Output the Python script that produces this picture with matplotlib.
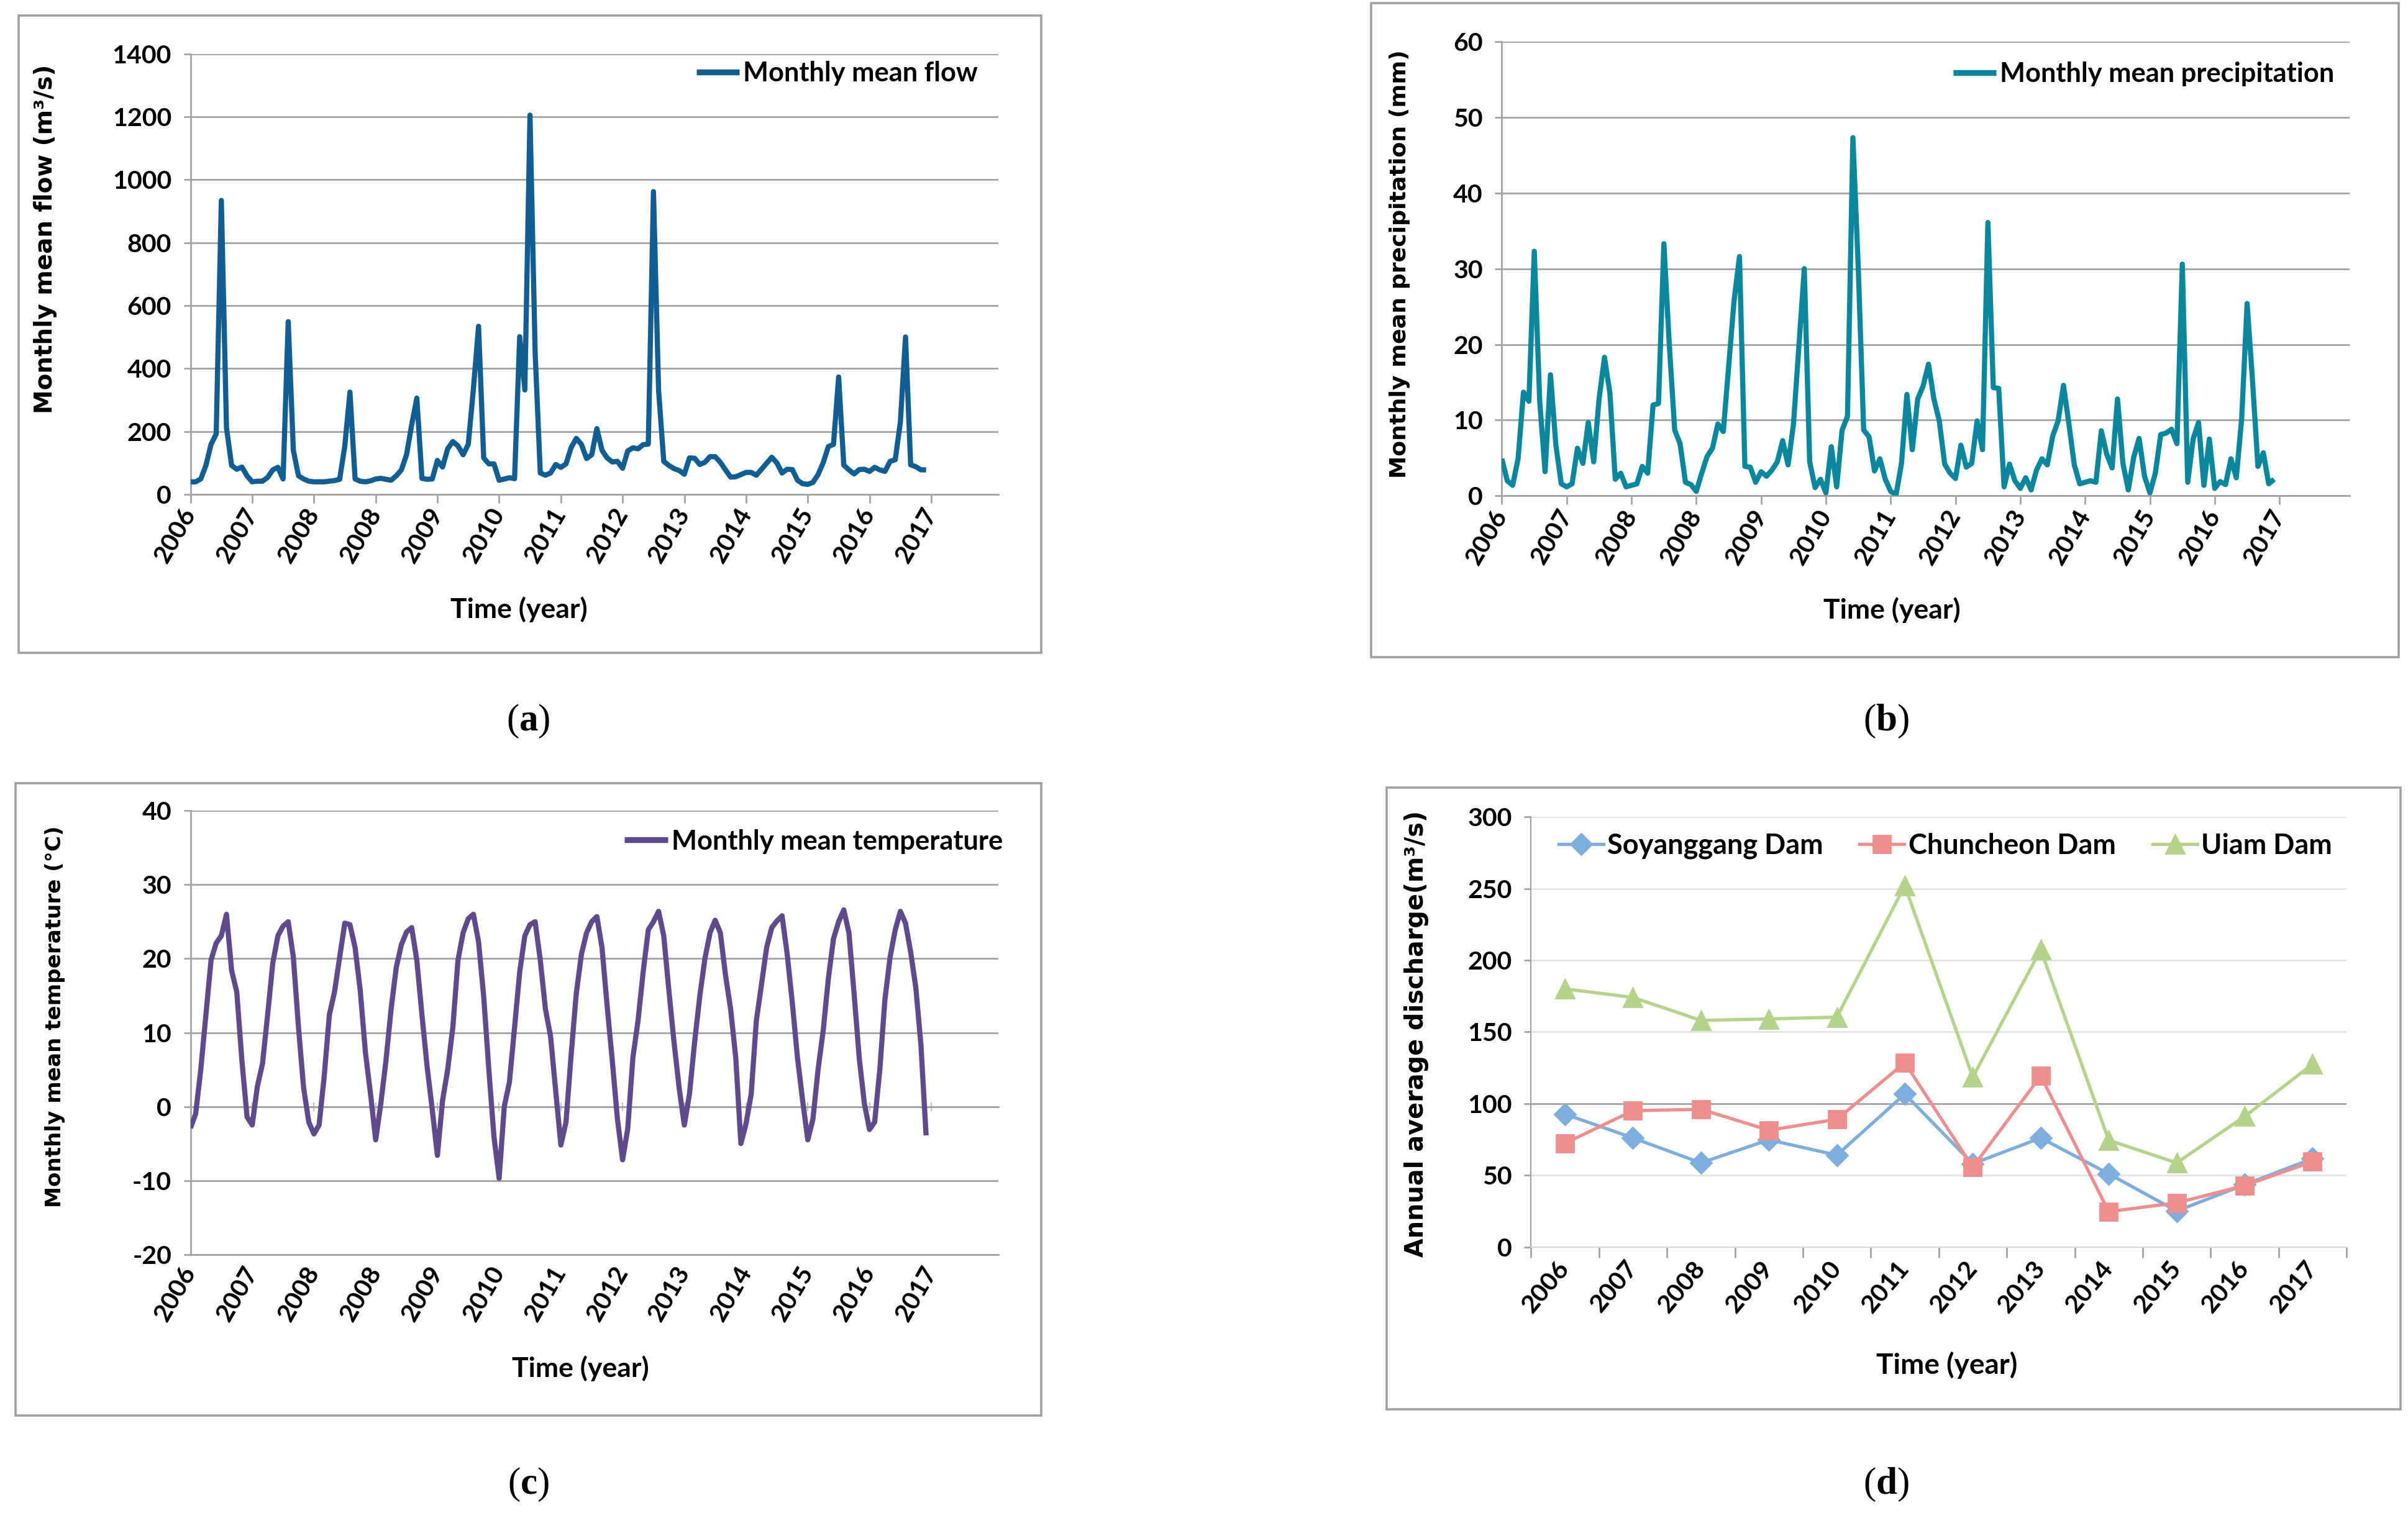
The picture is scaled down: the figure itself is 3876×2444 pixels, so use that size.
import numpy as np
import matplotlib
matplotlib.use('Agg')
import matplotlib.pyplot as plt
from matplotlib.patches import Rectangle

# ---------------- data ----------------
flow = [40, 40, 49, 92, 159, 192, 934, 211, 92, 80, 87, 59,
        40, 42, 42, 54, 78, 86, 49, 549, 140, 59, 49, 42,
        40, 40, 40, 42, 44, 48, 154, 325, 49, 42, 40, 43,
        49, 51, 48, 45, 59, 78, 126, 221, 306, 51, 48, 49,
        108, 87, 145, 168, 154, 126, 159, 335, 534, 116, 97, 97,
        45, 49, 53, 50, 501, 332, 1205, 450, 68, 61, 68, 95,
        86, 97, 149, 178, 159, 114, 126, 209, 140, 116, 103, 105,
        83, 138, 148, 145, 158, 160, 962, 330, 105, 92, 82, 76,
        64, 116, 115, 95, 102, 120, 120, 102, 78, 55, 56, 63,
        70, 70, 61, 80, 99, 118, 100, 68, 80, 79, 45, 34,
        32, 38, 63, 101, 152, 159, 373, 93, 78, 65, 79, 80,
        73, 86, 78, 73, 105, 110, 230, 500, 94, 88, 78, 78]

precip = [4.9, 2.0, 1.4, 4.9, 13.7, 12.5, 32.3, 12.6, 3.2, 16.0, 6.7, 1.6,
          1.2, 1.6, 6.3, 4.3, 9.7, 4.5, 12.8, 18.3, 13.6, 2.2, 3.0, 1.2,
          1.4, 1.6, 3.9, 3.0, 12.0, 12.2, 33.3, 20.0, 8.7, 6.9, 1.8, 1.5,
          0.6, 3.0, 5.2, 6.3, 9.5, 8.5, 17.2, 25.8, 31.6, 3.9, 3.8, 1.8,
          3.2, 2.6, 3.4, 4.5, 7.3, 4.1, 9.5, 19.7, 30.0, 4.5, 1.1, 2.2,
          0.4, 6.5, 1.2, 8.7, 10.5, 47.3, 30.0, 8.7, 7.8, 3.3, 4.9, 2.2,
          0.6, 0.2, 4.3, 13.4, 6.1, 12.8, 14.5, 17.4, 12.8, 9.9, 4.2, 3.0,
          2.3, 6.7, 3.8, 4.3, 9.9, 6.1, 36.1, 14.3, 14.2, 1.2, 4.2, 2.0,
          1.0, 2.4, 0.8, 3.4, 4.9, 4.1, 7.9, 9.9, 14.6, 9.5, 4.1, 1.6,
          1.8, 2.0, 1.8, 8.6, 5.5, 3.7, 12.8, 4.3, 0.8, 5.1, 7.6, 2.6,
          0.4, 3.0, 8.1, 8.3, 8.8, 6.9, 30.6, 1.8, 7.5, 9.7, 1.4, 7.5,
          1.0, 1.9, 1.5, 4.9, 2.4, 10.3, 25.4, 15.2, 3.9, 5.7, 1.6, 2.2]

temp = [-2.9, -1.0, 5.0, 12.4, 19.8, 22.1, 23.1, 26.0, 18.4, 15.5, 6.2, -1.4,
        -2.5, 2.7, 5.8, 12.4, 19.4, 23.1, 24.4, 25.0, 20.2, 10.7, 2.5, -2.1,
        -3.7, -2.5, 4.1, 12.4, 15.5, 20.2, 24.8, 24.6, 21.5, 15.7, 7.4, 1.7,
        -4.5, 0.4, 6.2, 13.2, 18.8, 21.9, 23.6, 24.2, 19.8, 12.4, 5.4, -0.4,
        -6.6, 0.8, 5.0, 10.7, 19.8, 23.5, 25.4, 26.0, 22.3, 14.9, 5.0, -4.1,
        -9.7, 0.0, 3.3, 10.7, 18.2, 23.1, 24.6, 25.0, 19.8, 13.2, 9.5, 2.1,
        -5.2, -2.1, 7.0, 15.3, 20.6, 23.5, 25.0, 25.7, 21.5, 13.6, 6.2, -1.7,
        -7.2, -3.0, 6.6, 11.6, 18.2, 23.9, 25.0, 26.4, 23.1, 15.7, 8.7, 2.5,
        -2.5, 1.7, 8.7, 14.9, 20.0, 23.5, 25.2, 23.5, 17.8, 13.2, 6.6, -5.0,
        -2.3, 1.7, 11.6, 16.5, 21.5, 24.2, 25.1, 25.8, 20.6, 14.0, 6.6, 0.8,
        -4.5, -1.7, 5.0, 10.3, 17.3, 22.7, 25.0, 26.6, 23.5, 15.3, 6.6, 0.4,
        -3.1, -2.1, 5.0, 14.5, 20.2, 23.9, 26.4, 24.8, 20.9, 16.1, 8.3, -3.9]

year_labels = ['2006', '2007', '2008', '2008', '2009', '2010', '2011',
               '2012', '2013', '2014', '2015', '2016', '2017']

dam_years = ['2006', '2007', '2008', '2009', '2010', '2011',
             '2012', '2013', '2014', '2015', '2016', '2017']
soyanggang = [92.6, 76, 58.6, 74.7, 64, 106.6, 58, 76, 51, 25, 43.4, 61.6]
chuncheon = [72.3, 95, 96, 81.4, 89, 128.5, 55.6, 119.3, 24.6, 30.7, 42.8, 59.5]
uiam = [180, 174, 158, 159, 160.3, 252, 118.4, 207.4, 74.4, 58.6, 91, 127.5]

# ---------------- style ----------------
plt.rcParams['font.family'] = ['Lato', 'DejaVu Sans']
plt.rcParams['font.weight'] = 'bold'
plt.rcParams['axes.unicode_minus'] = False
plt.rcParams['mathtext.fontset'] = 'custom'
plt.rcParams['mathtext.rm'] = 'Liberation Serif'
plt.rcParams['mathtext.bf'] = 'Liberation Serif:bold'

GRID = '#a3a3a3'
TICKFS = 14.8
LEGFS = 15.6
YLAB_FONT = 'DejaVu Sans'

fig = plt.figure(figsize=(19.38, 12.22), dpi=200)

# panel frames
for (x0, y0, x1, y1) in [(0.0077, 0.5700, 0.4324, 0.9898),
                         (0.5695, 0.5671, 0.9962, 0.9980),
                         (0.0064, 0.0675, 0.4324, 0.4840),
                         (0.5759, 0.0716, 0.9969, 0.4812)]:
    fig.add_artist(Rectangle((x0, y0), x1 - x0, y1 - y0, transform=fig.transFigure,
                             fill=False, edgecolor='#a0a0a0', linewidth=1.3))


def monthly_panel(rect, data, color, ylim, ystep, label, ylab, leg_anchor,
                  ylab_xy, xlab_xy, ylab_fs, zero_axis=False):
    ax = fig.add_axes(rect)
    x = np.arange(len(data))
    ax.plot(x, data, color=color, lw=3.0, solid_joinstyle='round',
            solid_capstyle='butt', label=label, zorder=3)
    ax.set_xlim(0, 157)
    ax.set_ylim(*ylim)
    ax.set_yticks(np.arange(ylim[0], ylim[1] + ystep / 2, ystep))
    ax.set_xticks(np.arange(0, 145, 12))
    ax.set_xticklabels(year_labels, rotation=60, ha='right', va='center',
                       rotation_mode='anchor')
    ax.yaxis.grid(True, color=GRID, lw=1.0)
    ax.set_axisbelow(True)
    for s in ['top', 'right']:
        ax.spines[s].set_visible(False)
    ax.spines['left'].set_color(GRID)
    ax.spines['left'].set_linewidth(1.0)
    ax.spines['bottom'].set_color(GRID)
    ax.spines['bottom'].set_linewidth(1.0)
    ax.tick_params(axis='y', direction='out', length=4, width=1.0, color=GRID,
                   labelsize=TICKFS, pad=7)
    if zero_axis:
        ax.tick_params(axis='x', length=0, labelsize=TICKFS, pad=8)
        sec = ax.secondary_xaxis((0 - ylim[0]) / (ylim[1] - ylim[0]))
        sec.set_xticks(np.arange(0, 145, 12))
        sec.set_xticklabels([])
        sec.tick_params(axis='x', direction='inout', length=5, width=0.8, color='#c0c0c0')
        sec.spines['bottom'].set_color(GRID)
        sec.spines['bottom'].set_linewidth(1.0)
    else:
        ax.tick_params(axis='x', direction='out', length=5, width=1.0, color=GRID,
                       labelsize=TICKFS, pad=4)
    ax.set_ylabel(ylab, family=YLAB_FONT, fontweight='bold', fontsize=ylab_fs)
    ax.yaxis.set_label_coords(*ylab_xy)
    ax.set_xlabel('Time (year)', fontsize=16, fontweight='bold')
    ax.xaxis.set_label_coords(*xlab_xy)
    leg = ax.legend(loc='center right', bbox_to_anchor=leg_anchor, frameon=False,
                    fontsize=LEGFS, handlelength=1.6, handletextpad=0.15,
                    borderpad=0, borderaxespad=0)
    for h in leg.get_lines():
        h.set_linewidth(3.4)
    return ax


monthly_panel([0.0791, 0.6743, 0.3354, 0.2903], flow, '#125E93', (0, 1400), 200,
              'Monthly mean flow', 'Monthly mean flow (m\u00b3/s)', (0.975, 0.955),
              (-0.165, 0.58), (0.407, -0.232), 14.0)

monthly_panel([0.6237, 0.6733, 0.3521, 0.2994], precip, '#0A879C', (0, 60), 10,
              'Monthly mean precipitation', 'Monthly mean precipitation (mm)', (0.982, 0.929),
              (-0.108, 0.51), (0.46, -0.222), 13.1)

monthly_panel([0.0791, 0.1736, 0.3354, 0.2923], temp, '#5F4A8B', (-20, 40), 10,
              'Monthly mean temperature', 'Monthly mean temperature (\u00b0C)', (1.006, 0.931),
              (-0.155, 0.536), (0.483, -0.228), 12.3, zero_axis=True)

# ---------------- panel (d) ----------------
axd = fig.add_axes([0.6358, 0.1786, 0.3387, 0.2833])
xc = np.arange(len(dam_years)) + 0.5
axd.plot(xc, soyanggang, color='#7EAEDD', lw=1.9, marker='D', ms=8.5,
         label='Soyanggang Dam', zorder=3)
axd.plot(xc, chuncheon, color='#EE8F8F', lw=1.9, marker='s', ms=10,
         label='Chuncheon Dam', zorder=3)
axd.plot(xc, uiam, color='#B3D38A', lw=1.9, marker='^', ms=11,
         label='Uiam Dam', zorder=3)
axd.set_xlim(0, 12)
axd.set_ylim(0, 300)
axd.set_yticks(np.arange(0, 301, 50))
axd.set_xticks(xc)
axd.set_xticklabels(dam_years, rotation=50, ha='right', va='center',
                    rotation_mode='anchor')
axd.set_xticks(np.arange(0, 13), minor=True)
axd.yaxis.grid(True, color='#e3e3e3', lw=1.0)
axd.get_ygridlines()[2].set_color(GRID)
axd.set_axisbelow(True)
for s in ['top', 'right']:
    axd.spines[s].set_visible(False)
axd.spines['left'].set_color(GRID)
axd.spines['bottom'].set_color('#d9d9d9')
axd.tick_params(axis='x', which='major', length=0, labelsize=TICKFS, pad=10)
axd.tick_params(axis='x', which='minor', direction='out', length=6, width=1.0, color=GRID)
axd.tick_params(axis='y', direction='out', length=4, width=1.0, color=GRID,
                labelsize=TICKFS, pad=7)
axd.set_ylabel('Annual average discharge(m\u00b3/s)', family=YLAB_FONT,
               fontweight='bold', fontsize=14.3)
axd.yaxis.set_label_coords(-0.125, 0.496)
axd.set_xlabel('Time (year)', fontsize=16.5, fontweight='bold')
axd.xaxis.set_label_coords(0.51, -0.243)
axd.legend(loc='center', bbox_to_anchor=(0.508, 0.932), ncol=3, frameon=False,
           fontsize=16.2, handlelength=1.6, handletextpad=0.15, columnspacing=1.3,
           borderpad=0, borderaxespad=0)

# ---------------- panel letters ----------------
for (x, y, s) in [(0.2194, 0.5246, 'a'), (0.7832, 0.5246, 'b'),
                  (0.2194, 0.0219, 'c'), (0.7832, 0.0219, 'd')]:
    fig.text(x, y, '($\\mathbf{%s}$)' % s, ha='center', va='center', fontsize=22,
             family='Liberation Serif', fontweight='normal')

fig.savefig('out.png', dpi=200)
